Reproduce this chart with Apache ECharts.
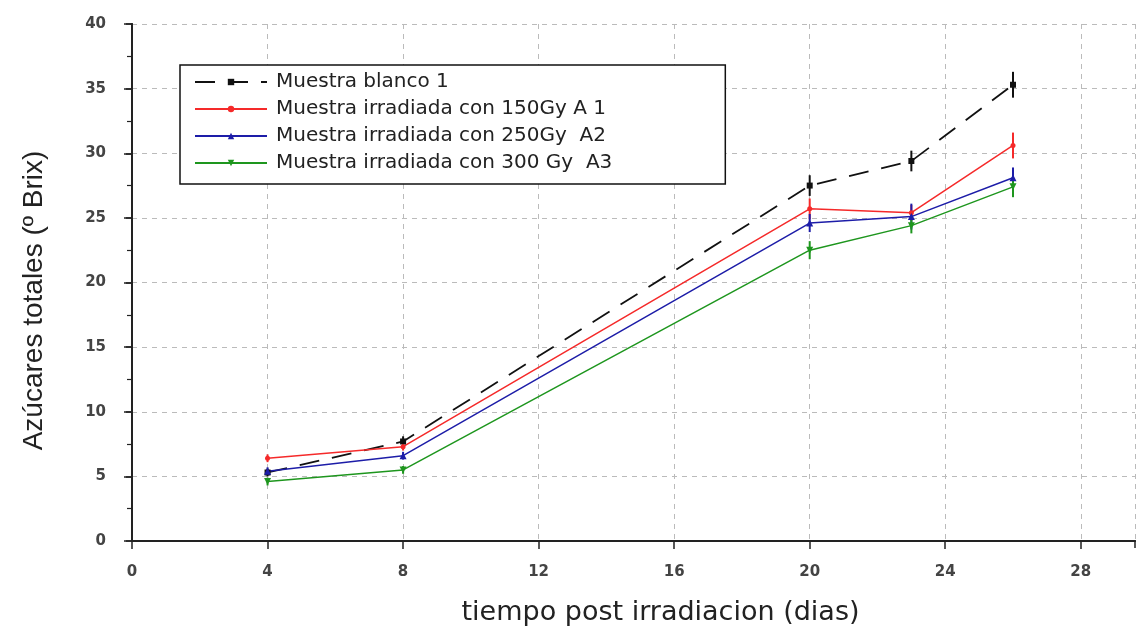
<!DOCTYPE html>
<html>
<head>
<meta charset="utf-8">
<script src="https://cdn.jsdelivr.net/npm/echarts@6/dist/echarts.min.js"></script>
<style>
  html, body { margin: 0; padding: 0; background: #fff; }
  #chart { width: 1136px; height: 631px; }
</style>
</head>
<body>
<div id="chart"></div>
<script>
// días post irradiación
const dias = [4, 8, 20, 23, 26];

// ºBrix por muestra
const blanco1 = [5.3, 7.7, 27.5, 29.4, 35.3];
const irr150 = [6.4, 7.3, 25.7, 25.4, 30.6];
const irr250 = [5.4, 6.6, 24.6, 25.1, 28.1];
const irr300 = [4.6, 5.5, 22.5, 24.4, 27.4];

// barras de error (+/-)
const errBlanco1 = [0.3, 0.4, 0.8, 0.8, 1.0];
const errIrr150 = [0.3, 0.3, 0.8, 0.6, 1.0];
const errIrr250 = [0.3, 0.3, 0.7, 1.0, 0.8];
const errIrr300 = [0.3, 0.3, 0.7, 0.6, 0.8];

const nombres = [
  'Muestra blanco 1',
  'Muestra irradiada con 150Gy A 1',
  'Muestra irradiada con 250Gy  A2',
  'Muestra irradiada con 300 Gy  A3'
];

const fuente = '"Liberation Sans", Arial, sans-serif';
const fuenteAncha = '"DejaVu Sans", sans-serif';

function puntos(ys) {
  return dias.map((d, i) => [d, ys[i]]);
}

function barras(ys, errs) {
  return dias.map((d, i) => [d, ys[i], errs[i]]);
}

function serieError(ys, errs, color) {
  return {
    type: 'custom',
    silent: true,
    z: 3,
    data: barras(ys, errs),
    renderItem: function (params, api) {
      const x = api.value(0);
      const y = api.value(1);
      const e = api.value(2);
      const p1 = api.coord([x, y - e]);
      const p2 = api.coord([x, y + e]);
      return {
        type: 'line',
        shape: { x1: p1[0], y1: p1[1], x2: p2[0], y2: p2[1] },
        style: { stroke: color, lineWidth: 2 }
      };
    }
  };
}

const chart = echarts.init(document.getElementById('chart'));

const option = {
  backgroundColor: '#fff',
  animation: false,
  grid: { left: 132, top: 24, right: 1, bottom: 90, outerBoundsMode: 'none', containLabel: false },
  legend: {
    orient: 'vertical',
    left: 180,
    top: 65,
    data: nombres,
    backgroundColor: '#fff',
    borderColor: '#111',
    borderWidth: 1.5,
    borderRadius: 0,
    padding: [7, 113, 11, 14],
    itemGap: 7,
    itemWidth: 72,
    itemHeight: 8,
    textStyle: { fontFamily: fuenteAncha, fontSize: 20, color: '#222', padding: [0, 0, 0, 4] }
  },
  xAxis: [
    {
      type: 'value',
      min: 0,
      max: 29.6,
      interval: 4,
      name: 'tiempo post irradiacion (dias)',
      nameLocation: 'middle',
      nameGap: 58,
      nameTextStyle: { fontFamily: fuenteAncha, fontSize: 27, color: '#222', padding: [0, 0, 0, 54] },
      axisLine: { lineStyle: { color: '#222', width: 2 } },
      axisTick: { length: 8, lineStyle: { color: '#222', width: 1.5 } },
      axisLabel: { margin: 24, fontFamily: fuenteAncha, fontWeight: 'bold', fontSize: 15, color: '#444', showMaxLabel: false },
      splitLine: { show: true, lineStyle: { color: '#bbb', type: [5, 5], width: 1 } }
    },
    {
      type: 'value',
      position: 'top',
      min: 0,
      max: 29.6,
      interval: 4,
      axisLine: { lineStyle: { color: '#222', width: 2 } },
      axisTick: { inside: true, length: 7, lineStyle: { color: '#222', width: 1.5 } },
      axisLabel: { show: false },
      splitLine: { show: false }
    }
  ],
  yAxis: [
    {
      type: 'value',
      min: 0,
      max: 40,
      interval: 5,
      name: 'Azúcares totales (º Brix)',
      nameLocation: 'middle',
      nameGap: 84,
      nameTextStyle: { fontFamily: fuente, fontSize: 28, color: '#222', padding: [0, 36, 0, 0] },
      axisLine: { show: true, lineStyle: { color: '#222', width: 2 } },
      axisTick: { length: 8, lineStyle: { color: '#222', width: 1.5 } },
      minorTick: { show: true, splitNumber: 2, length: 5, lineStyle: { color: '#222', width: 1.2 } },
      axisLabel: { margin: 26, fontFamily: fuenteAncha, fontWeight: 'bold', fontSize: 15, color: '#444' },
      splitLine: { show: true, lineStyle: { color: '#bbb', type: [5, 5], width: 1 } }
    },
    {
      type: 'value',
      position: 'right',
      min: 0,
      max: 40,
      interval: 5,
      axisLine: { show: true, lineStyle: { color: '#222', width: 2 } },
      axisTick: { inside: true, length: 6, lineStyle: { color: '#222', width: 1.5 } },
      axisLabel: { show: false },
      splitLine: { show: false }
    }
  ],
  series: [
    {
      name: nombres[0],
      type: 'line',
      data: puntos(blanco1),
      symbol: 'rect',
      symbolSize: 6,
      z: 4,
      itemStyle: { color: '#111' },
      lineStyle: { color: '#111', width: 1.8, type: [20, 13] }
    },
    {
      name: nombres[1],
      type: 'line',
      data: puntos(irr150),
      symbol: 'circle',
      symbolSize: 5,
      z: 4,
      itemStyle: { color: '#f52a2a' },
      lineStyle: { color: '#f52a2a', width: 1.5 }
    },
    {
      name: nombres[2],
      type: 'line',
      data: puntos(irr250),
      symbol: 'triangle',
      symbolSize: 7,
      z: 4,
      itemStyle: { color: '#1d1da8' },
      lineStyle: { color: '#1d1da8', width: 1.5 }
    },
    {
      name: nombres[3],
      type: 'line',
      data: puntos(irr300),
      symbol: 'triangle',
      symbolRotate: 180,
      symbolSize: 7,
      z: 4,
      itemStyle: { color: '#1e961e' },
      lineStyle: { color: '#1e961e', width: 1.5 }
    },
    serieError(blanco1, errBlanco1, '#111'),
    serieError(irr150, errIrr150, '#f52a2a'),
    serieError(irr250, errIrr250, '#1d1da8'),
    serieError(irr300, errIrr300, '#1e961e')
  ]
};

chart.setOption(option);
</script>
</body>
</html>
